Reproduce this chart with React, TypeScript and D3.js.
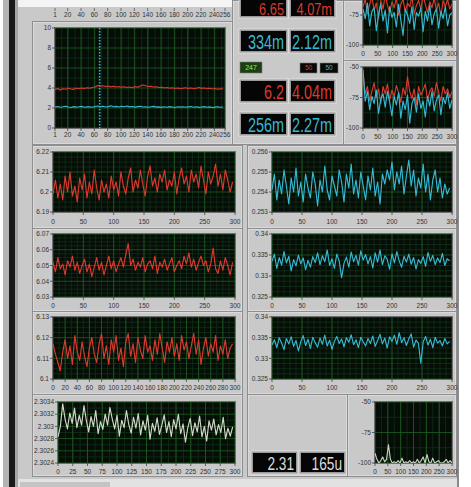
import React from "react";
import * as d3 from "d3";

const FONT = "'Liberation Sans Narrow','Liberation Sans',Arial,sans-serif";

// ---------- tick values / labels ----------
const histXTicks = [1, 20, 40, 60, 80, 100, 120, 140, 160, 180, 200, 220, 240, 256];
const histYTicks = [0, 2, 4, 6, 8, 10];
const x50Ticks = [0, 50, 100, 150, 200, 250, 300];
const x20Ticks = [0, 20, 40, 60, 80, 100, 120, 140, 160, 180, 200, 220, 240, 260, 280, 300];
const x25Ticks = [0, 25, 50, 75, 100, 125, 150, 175, 200, 225, 250, 275, 300];
const r1lY = [6.19, 6.2, 6.21, 6.22];
const r1lYLabels = ["6.19", "6.2", "6.21", "6.22"];
const r1rY = [0.253, 0.254, 0.255, 0.256];
const r1rYLabels = ["0.253", "0.254", "0.255", "0.256"];
const r2lY = [6.03, 6.04, 6.05, 6.06, 6.07];
const r2lYLabels = ["6.03", "6.04", "6.05", "6.06", "6.07"];
const rRY = [0.325, 0.33, 0.335, 0.34];
const rRYLabels = ["0.325", "0.33", "0.335", "0.34"];
const r3lY = [6.1, 6.11, 6.12, 6.13];
const r3lYLabels = ["6.1", "6.11", "6.12", "6.13"];
const r4lY = [2.3024, 2.3026, 2.3028, 2.303, 2.3032, 2.3034];
const r4lYLabels = ["2.3024", "2.3026", "2.3028", "2.303", "2.3032", "2.3034"];
const specY = [-100, -75, -50];
const specYLabels = ["-100", "-75", "-50"];

// ---------- indicator values ----------
const indRow1 = ["6.65", "4.07m"];
const indRow2 = ["334m", "2.12m"];
const indRow4 = ["6.2", "4.04m"];
const indRow5 = ["256m", "2.27m"];
const indBottom = ["2.31", "165u"];
const smallInd = ["247", "50", "50"];

// ---------- series ----------
const histCursor = 68;
const histRed = [3.85, 3.95, 3.8, 3.92, 3.88, 3.97, 3.9, 3.86, 3.98, 3.93, 4.0, 3.95, 4.02, 3.98, 4.05, 4.1, 4.25, 4.18, 4.22, 4.15, 4.2, 4.12, 4.18, 4.1, 4.15, 4.08, 4.12, 4.05, 4.1, 4.03, 4.15, 4.08, 4.2, 4.3, 4.22, 4.15, 4.18, 4.1, 4.12, 4.05, 4.08, 4.0, 4.05, 3.98, 4.02, 3.95, 4.0, 3.93, 3.98, 4.02, 3.95, 4.0, 3.92, 3.98, 4.05, 3.96, 4.0, 3.92, 3.97, 3.9, 3.95, 3.88, 3.93, 3.9];
const histCyan = [2.1, 2.15, 2.08, 2.12, 2.18, 2.1, 2.05, 2.14, 2.09, 2.12, 2.16, 2.08, 2.11, 2.13, 2.07, 2.15, 2.2, 2.12, 2.18, 2.1, 2.14, 2.22, 2.12, 2.16, 2.1, 2.18, 2.13, 2.2, 2.11, 2.15, 2.09, 2.14, 2.18, 2.1, 2.13, 2.08, 2.12, 2.16, 2.09, 2.11, 2.06, 2.12, 2.08, 2.14, 2.1, 2.05, 2.12, 2.09, 2.13, 2.07, 2.11, 2.15, 2.08, 2.12, 2.06, 2.1, 2.14, 2.08, 2.11, 2.05, 2.09, 2.13, 2.07, 2.1];

const specARed = [-68, -62, -74, -66, -60, -71, -65, -78, -63, -70, -58, -67, -73, -64, -69, -61, -75, -66, -62, -72, -65, -68, -60, -74, -67, -63, -70, -59, -66, -73, -64, -69, -61, -71, -65, -76, -63, -68, -62, -70, -66];
const specACyan = [-70, -78, -65, -84, -72, -69, -88, -74, -66, -80, -71, -90, -68, -77, -73, -85, -66, -79, -92, -70, -75, -82, -68, -87, -73, -76, -69, -89, -72, -80, -67, -83, -74, -70, -86, -72, -78, -68, -84, -75, -73];
const specBRed = [-55, -72, -66, -78, -70, -63, -75, -68, -80, -66, -72, -64, -77, -69, -74, -65, -71, -79, -67, -73, -58, -70, -76, -68, -81, -66, -73, -69, -64, -77, -70, -67, -74, -63, -71, -78, -66, -72, -68, -75, -70];
const specBCyan = [-52, -78, -70, -85, -74, -80, -69, -88, -76, -72, -83, -70, -79, -90, -74, -81, -71, -92, -78, -85, -73, -96, -80, -75, -87, -72, -84, -78, -91, -74, -82, -70, -86, -77, -73, -89, -75, -80, -71, -84, -77];
const specBottom = [-92, -97, -100, -98, -95, -99, -97, -85, -97, -100, -99, -100, -98, -100, -96, -100, -99, -100, -98, -100, -99, -100, -97, -100, -98, -95, -100, -93, -99, -100, -96, -100, -99, -98, -100, -100, -99, -97, -100, -98, -100];

const r1Left = [6.199, 6.206, 6.197, 6.204, 6.196, 6.208, 6.2, 6.21, 6.198, 6.203, 6.195, 6.207, 6.201, 6.209, 6.197, 6.205, 6.199, 6.211, 6.202, 6.196, 6.206, 6.2, 6.204, 6.197, 6.208, 6.201, 6.205, 6.198, 6.21, 6.203, 6.199, 6.207, 6.212, 6.2, 6.206, 6.202, 6.211, 6.204, 6.198, 6.208, 6.213, 6.203, 6.207, 6.2, 6.209, 6.205, 6.211, 6.201, 6.206, 6.203, 6.21, 6.199, 6.207, 6.212, 6.204, 6.208, 6.2, 6.211, 6.205, 6.209, 6.202, 6.213, 6.206, 6.199, 6.21, 6.204, 6.208, 6.214, 6.203, 6.209, 6.201, 6.211, 6.206, 6.2, 6.205];
const r1Right = [0.2541, 0.2549, 0.2536, 0.2546, 0.2539, 0.2551, 0.2543, 0.2534, 0.2547, 0.254, 0.2552, 0.2538, 0.2545, 0.2535, 0.2549, 0.2542, 0.2537, 0.255, 0.2544, 0.2533, 0.2546, 0.254, 0.2553, 0.2541, 0.2536, 0.2548, 0.2543, 0.2538, 0.2551, 0.2545, 0.2535, 0.2549, 0.2542, 0.2554, 0.2539, 0.2546, 0.2537, 0.255, 0.2543, 0.2536, 0.2548, 0.2541, 0.2552, 0.2538, 0.2545, 0.2534, 0.2549, 0.2544, 0.2551, 0.2546, 0.2555, 0.2541, 0.255, 0.2544, 0.2553, 0.2539, 0.2548, 0.2556, 0.2543, 0.2551, 0.2538, 0.2547, 0.2542, 0.2554, 0.254, 0.2549, 0.2536, 0.2546, 0.2551, 0.254, 0.2547, 0.2537, 0.2544, 0.2539, 0.2542];
const r2Left = [6.052, 6.046, 6.055, 6.048, 6.051, 6.044, 6.053, 6.049, 6.056, 6.047, 6.052, 6.045, 6.05, 6.054, 6.046, 6.051, 6.043, 6.049, 6.055, 6.047, 6.052, 6.044, 6.05, 6.056, 6.048, 6.053, 6.046, 6.051, 6.055, 6.049, 6.057, 6.064, 6.05, 6.054, 6.047, 6.052, 6.049, 6.055, 6.046, 6.051, 6.053, 6.048, 6.056, 6.045, 6.052, 6.049, 6.054, 6.047, 6.051, 6.055, 6.046, 6.05, 6.053, 6.048, 6.056, 6.051, 6.058, 6.049, 6.054, 6.047, 6.052, 6.056, 6.05, 6.053, 6.046, 6.051, 6.061, 6.048, 6.045, 6.053, 6.047, 6.055, 6.05, 6.044, 6.052];
const r2Right = [0.3335, 0.3352, 0.3318, 0.3344, 0.3326, 0.3358, 0.3331, 0.3347, 0.3312, 0.3339, 0.3324, 0.335, 0.3329, 0.3343, 0.3315, 0.3337, 0.3321, 0.3346, 0.3332, 0.3355, 0.3327, 0.3348, 0.3334, 0.3362, 0.3325, 0.3341, 0.3318, 0.3352, 0.3336, 0.3296, 0.333, 0.3345, 0.3321, 0.3357, 0.3334, 0.3349, 0.3326, 0.336, 0.3338, 0.3351, 0.3329, 0.3346, 0.3319, 0.3355, 0.3333, 0.3362, 0.3327, 0.3348, 0.334, 0.3316, 0.3353, 0.3331, 0.3358, 0.3336, 0.3321, 0.3347, 0.3333, 0.3352, 0.3328, 0.3344, 0.3317, 0.3339, 0.333, 0.3346, 0.3323, 0.3356, 0.3335, 0.3349, 0.3327, 0.3343, 0.3332, 0.3354, 0.3325, 0.3341, 0.3336];
const r3Left = [6.117, 6.112, 6.108, 6.104, 6.113, 6.119, 6.11, 6.116, 6.107, 6.121, 6.113, 6.109, 6.118, 6.111, 6.106, 6.115, 6.12, 6.112, 6.108, 6.117, 6.122, 6.11, 6.116, 6.107, 6.119, 6.113, 6.121, 6.109, 6.115, 6.106, 6.118, 6.122, 6.111, 6.117, 6.108, 6.12, 6.114, 6.11, 6.121, 6.113, 6.116, 6.109, 6.119, 6.112, 6.122, 6.115, 6.108, 6.118, 6.113, 6.12, 6.111, 6.117, 6.109, 6.121, 6.114, 6.118, 6.11, 6.116, 6.122, 6.112, 6.119, 6.107, 6.115, 6.12, 6.111, 6.117, 6.113, 6.121, 6.109, 6.116, 6.112, 6.119, 6.11, 6.115, 6.117];
const r3Right = [0.3332, 0.3345, 0.3326, 0.335, 0.3337, 0.3321, 0.3348, 0.3335, 0.3352, 0.3329, 0.3343, 0.3318, 0.334, 0.3355, 0.3331, 0.3346, 0.3324, 0.3351, 0.3338, 0.3327, 0.3349, 0.3334, 0.3356, 0.333, 0.3344, 0.3322, 0.3341, 0.3353, 0.3336, 0.3347, 0.3328, 0.335, 0.3339, 0.3357, 0.3333, 0.3345, 0.3326, 0.3351, 0.334, 0.333, 0.3348, 0.3336, 0.3354, 0.3329, 0.3343, 0.3358, 0.3335, 0.3349, 0.3325, 0.3352, 0.3341, 0.3356, 0.3334, 0.3362, 0.3338, 0.335, 0.3331, 0.3347, 0.3359, 0.3327, 0.3344, 0.3336, 0.3288, 0.334, 0.3353, 0.3332, 0.3346, 0.3326, 0.3351, 0.3337, 0.3343, 0.333, 0.3348, 0.3335, 0.3341];
const r4Left = [2.30283, 2.303, 2.30337, 2.30312, 2.30296, 2.30322, 2.30305, 2.3033, 2.30298, 2.30318, 2.30302, 2.30334, 2.3031, 2.30291, 2.30316, 2.303, 2.30326, 2.30288, 2.30308, 2.30295, 2.3032, 2.30302, 2.30331, 2.30312, 2.30296, 2.30318, 2.30284, 2.3031, 2.30298, 2.30326, 2.30303, 2.30289, 2.30315, 2.30297, 2.30321, 2.30286, 2.30309, 2.30294, 2.30318, 2.30279, 2.30305, 2.30292, 2.30314, 2.30287, 2.30302, 2.30319, 2.3029, 2.30308, 2.30283, 2.30311, 2.30296, 2.3032, 2.30288, 2.30304, 2.30274, 2.30298, 2.30313, 2.30285, 2.30306, 2.30291, 2.30317, 2.30283, 2.303, 2.30276, 2.30309, 2.30294, 2.30312, 2.30286, 2.30303, 2.3029, 2.30315, 2.3028, 2.30297, 2.30284, 2.30299];

const RED = "#dc3a2e";
const CYAN = "#36b9d4";
const WHITE = "#d2d8c8";
const GRID_MAJ = "#1f5e22";
const GRID_MIN = "#10301a";
const PLOT_BG = "#050d06";
const PANEL = "#c9c9c9";

interface Series { values: number[]; step: number; start?: number; color: string; }
interface PlotProps {
  left: number; top: number; width: number; height: number;
  xDomain: [number, number]; yDomain: [number, number];
  xTicks: number[]; yTicks: number[]; yLabels: string[];
  xMinorStep: number; yMinorDiv: number;
  labelY: number; series: Series[]; cursor?: number;
}

function Plot(p: PlotProps) {
  const id = "c" + React.useId().replace(/[^a-zA-Z0-9]/g, "");
  const xs = d3.scaleLinear().domain(p.xDomain).range([p.left, p.left + p.width]);
  const ys = d3.scaleLinear().domain(p.yDomain).range([p.top + p.height, p.top]);
  const xMinor = d3.range(p.xDomain[0], p.xDomain[1], p.xMinorStep);
  const yMinor: number[] = [];
  for (let i = 0; i < p.yTicks.length - 1; i++) {
    const a = p.yTicks[i], b = p.yTicks[i + 1];
    for (let k = 1; k < p.yMinorDiv; k++) yMinor.push(a + ((b - a) * k) / p.yMinorDiv);
  }
  const bottom = p.top + p.height;
  return (
    <g>
      <clipPath id={id}><rect x={p.left} y={p.top} width={p.width} height={p.height} /></clipPath>
      <rect x={p.left} y={p.top} width={p.width} height={p.height} fill={PLOT_BG} />
      <g clipPath={`url(#${id})`}>
        {xMinor.map((v, i) => (
          <line key={"xm" + i} x1={xs(v)} x2={xs(v)} y1={p.top} y2={bottom} stroke={GRID_MIN} strokeWidth={0.8} />
        ))}
        {yMinor.map((v, i) => (
          <line key={"ym" + i} x1={p.left} x2={p.left + p.width} y1={ys(v)} y2={ys(v)} stroke={GRID_MIN} strokeWidth={0.8} />
        ))}
        {p.xTicks.map((v, i) => (
          <line key={"xM" + i} x1={xs(v)} x2={xs(v)} y1={p.top} y2={bottom} stroke={GRID_MAJ} strokeWidth={0.8} />
        ))}
        {p.yTicks.map((v, i) => (
          <line key={"yM" + i} x1={p.left} x2={p.left + p.width} y1={ys(v)} y2={ys(v)} stroke={GRID_MAJ} strokeWidth={0.8} />
        ))}
        {p.series.map((s, si) => {
          const line = d3.line<number>()
            .x((_, i) => xs((s.start ?? 0) + i * s.step))
            .y((d) => ys(d));
          return <path key={si} d={line(s.values) || ""} fill="none" stroke={s.color} strokeWidth={1.15} strokeLinejoin="round" />;
        })}
        {p.cursor !== undefined && (
          <line x1={xs(p.cursor)} x2={xs(p.cursor)} y1={p.top} y2={bottom} stroke={CYAN} strokeWidth={1.6} strokeDasharray="1.5 1.5" />
        )}
      </g>
      <rect x={p.left - 0.5} y={p.top - 0.5} width={p.width + 1} height={p.height + 1} fill="none" stroke="#6f6f6f" strokeWidth={1} />
      {p.yTicks.map((v, i) => ys(v) < 4 ? null : (
        <g key={"yt" + i}>
          <line x1={p.left - 3} x2={p.left} y1={ys(v)} y2={ys(v)} stroke="#444" strokeWidth={0.8} />
          <text x={p.left - 4} y={ys(v)} dy="0.35em" textAnchor="end" fontSize={6.5} fill="#333">{p.yLabels[i]}</text>
        </g>
      ))}
      {p.xTicks.map((v, i) => (
        <g key={"xt" + i}>
          <line x1={xs(v)} x2={xs(v)} y1={bottom} y2={bottom + 3} stroke="#444" strokeWidth={0.8} />
          <text x={xs(v)} y={p.labelY} dy="0.35em" textAnchor="middle" fontSize={6.5} fill="#333">{String(v)}</text>
        </g>
      ))}
    </g>
  );
}

function Panel({ x, y, w, h }: { x: number; y: number; w: number; h: number }) {
  return (
    <g>
      <rect x={x + 0.5} y={y + 0.5} width={w - 1} height={h - 1} fill={PANEL} stroke="#8e8e8e" strokeWidth={1} />
      <rect x={x + 1.5} y={y + 1.5} width={w - 3} height={h - 3} fill="none" stroke="#dedede" strokeWidth={0.8} />
    </g>
  );
}

function Num({ x, y, w, h, text, color, size = 20, base, sx = 0.72 }: { x: number; y: number; w: number; h: number; text: string; color: string; size?: number; base?: number; sx?: number }) {
  const by = base ?? y + h - 4;
  return (
    <g>
      <rect x={x} y={y} width={w} height={h} fill="#9a9a9a" />
      <rect x={x} y={y} width={w} height={h} fill="none" stroke="#e6e6e6" strokeWidth={0.8} />
      <rect x={x + 2} y={y + 2} width={w - 4} height={h - 4} fill="#050505" />
      <text transform={`translate(${x + w - 4},${by}) scale(${sx},1)`} textAnchor="end" fontSize={size} fill={color}
        fontFamily="'Liberation Sans',Arial,sans-serif">{text}</text>
    </g>
  );
}

export default function App() {
  const histScale = d3.scaleLinear().domain([1, 256]).range([55, 225]);
  return (
    <div style={{ position: "absolute", left: 0, top: 0 }}>
      <svg width={471} height={487} style={{ display: "block" }} fontFamily={FONT}>
        <rect x={0} y={0} width={471} height={487} fill="#ffffff" />
        <rect x={3} y={0} width={456} height={479} fill={PANEL} />
        <rect x={18} y={479} width={441} height={8} fill="#e2e2e2" />
        <rect x={20} y={482} width={90} height={5} fill="#c4c4c4" />
        <rect x={3} y={0} width={6} height={487} fill="#b3b3b3" />
        <rect x={9} y={0} width={6} height={487} fill="#1a1a1a" />
        <rect x={15} y={0} width={3} height={487} fill="#a6a6a6" />
        <rect x={457} y={0} width={2} height={487} fill="#8a8a8a" />
        <rect x={459} y={0} width={12} height={487} fill="#ffffff" />

        {/* top region */}
        <rect x={18} y={0} width={214} height={7} fill="#f4f4f4" />
        {histXTicks.map((v, i) => (
          <g key={"tt" + i}>
            <line x1={histScale(v)} x2={histScale(v)} y1={8} y2={11} stroke="#555" strokeWidth={0.8} />
            <text x={histScale(v)} y={15} dy="0.35em" textAnchor="middle" fontSize={6.5} fill="#333">{String(v)}</text>
          </g>
        ))}
        <Panel x={32} y={21} w={201} h={124} />
        <Panel x={232} y={0} w={112} h={145} />
        <Panel x={343} y={0} w={114} h={61} />
        <Panel x={343} y={60} w={114} h={85} />

        <Plot left={55} top={28} width={170} height={100} xDomain={[1, 256]} yDomain={[0, 10]}
          xTicks={histXTicks} yTicks={histYTicks} yLabels={histYTicks.map(String)}
          xMinorStep={10} yMinorDiv={2} labelY={135}
          series={[{ values: histRed, step: 4, start: 1, color: RED }, { values: histCyan, step: 4, start: 1, color: CYAN }]}
          cursor={histCursor} />

        <Num x={239} y={-4} w={49} h={22} text={indRow1[0]} color={RED} size={16} base={15} sx={0.8} />
        <Num x={289} y={-4} w={47} h={22} text={indRow1[1]} color={RED} size={16} base={15} sx={0.8} />
        <Num x={239} y={29} w={49} h={24} text={indRow2[0]} color={CYAN} />
        <Num x={289} y={29} w={47} h={24} text={indRow2[1]} color={CYAN} />
        <rect x={240} y={62} width={22} height={11} fill="#1d3d12" stroke="#7a7a7a" strokeWidth={0.6} />
        <text x={251} y={67.5} dy="0.35em" textAnchor="middle" fontSize={7} fill="#8af050">{smallInd[0]}</text>
        <rect x={300} y={63} width={17} height={10} fill="#080808" stroke="#7a7a7a" strokeWidth={0.6} />
        <text x={308.5} y={68} dy="0.35em" textAnchor="middle" fontSize={6.5} fill={RED}>{smallInd[1]}</text>
        <rect x={320} y={63} width={18} height={10} fill="#080808" stroke="#7a7a7a" strokeWidth={0.6} />
        <text x={329} y={68} dy="0.35em" textAnchor="middle" fontSize={6.5} fill={CYAN}>{smallInd[2]}</text>
        <Num x={239} y={79} w={49} h={24} text={indRow4[0]} color={RED} />
        <Num x={289} y={79} w={47} h={24} text={indRow4[1]} color={RED} />
        <Num x={239} y={112} w={49} h={24} text={indRow5[0]} color={CYAN} />
        <Num x={289} y={112} w={47} h={24} text={indRow5[1]} color={CYAN} />

        <Plot left={363} top={-15} width={89} height={60} xDomain={[0, 300]} yDomain={[-100, -50]}
          xTicks={x50Ticks} yTicks={specY} yLabels={specYLabels} xMinorStep={25} yMinorDiv={2} labelY={54}
          series={[{ values: specARed, step: 7.5, color: RED }, { values: specACyan, step: 7.5, color: CYAN }]} />
        <Plot left={363} top={67} width={89} height={61} xDomain={[0, 300]} yDomain={[-100, -50]}
          xTicks={x50Ticks} yTicks={specY} yLabels={specYLabels} xMinorStep={25} yMinorDiv={2} labelY={137}
          series={[{ values: specBRed, step: 7.5, color: RED }, { values: specBCyan, step: 7.5, color: CYAN }]} />

        {/* rows */}
        <Panel x={32} y={145} w={211} h={84} />
        <Panel x={247} y={145} w={210} h={84} />
        <Panel x={32} y={228} w={211} h={84} />
        <Panel x={247} y={228} w={210} h={84} />
        <Panel x={32} y={311} w={211} h={84} />
        <Panel x={247} y={311} w={210} h={84} />
        <Panel x={32} y={394} w={211} h={83} />
        <Panel x={247} y={394} w={101} h={83} />
        <Panel x={347} y={394} w={110} h={83} />

        <Plot left={53} top={152} width={182} height={60} xDomain={[0, 300]} yDomain={[6.19, 6.22]}
          xTicks={x50Ticks} yTicks={r1lY} yLabels={r1lYLabels} xMinorStep={10} yMinorDiv={4} labelY={222}
          series={[{ values: r1Left, step: 4, color: RED }]} />
        <Plot left={272} top={152} width={180} height={60} xDomain={[0, 300]} yDomain={[0.253, 0.256]}
          xTicks={x50Ticks} yTicks={r1rY} yLabels={r1rYLabels} xMinorStep={10} yMinorDiv={4} labelY={222}
          series={[{ values: r1Right, step: 4, color: CYAN }]} />
        <Plot left={53} top={234} width={182} height={63} xDomain={[0, 300]} yDomain={[6.03, 6.07]}
          xTicks={x50Ticks} yTicks={r2lY} yLabels={r2lYLabels} xMinorStep={10} yMinorDiv={4} labelY={306}
          series={[{ values: r2Left, step: 4, color: RED }]} />
        <Plot left={272} top={234} width={180} height={63} xDomain={[0, 300]} yDomain={[0.325, 0.34]}
          xTicks={x50Ticks} yTicks={rRY} yLabels={rRYLabels} xMinorStep={10} yMinorDiv={4} labelY={306}
          series={[{ values: r2Right, step: 4, color: CYAN }]} />
        <Plot left={53} top={317} width={182} height={62} xDomain={[0, 300]} yDomain={[6.1, 6.13]}
          xTicks={x20Ticks} yTicks={r3lY} yLabels={r3lYLabels} xMinorStep={10} yMinorDiv={4} labelY={388}
          series={[{ values: r3Left, step: 4, color: RED }]} />
        <Plot left={272} top={317} width={180} height={62} xDomain={[0, 300]} yDomain={[0.325, 0.34]}
          xTicks={x50Ticks} yTicks={rRY} yLabels={rRYLabels} xMinorStep={10} yMinorDiv={4} labelY={388}
          series={[{ values: r3Right, step: 4, color: CYAN }]} />
        <Plot left={58} top={402} width={177} height={61} xDomain={[0, 300]} yDomain={[2.3024, 2.3034]}
          xTicks={x25Ticks} yTicks={r4lY} yLabels={r4lYLabels} xMinorStep={12.5} yMinorDiv={2} labelY={472}
          series={[{ values: r4Left, step: 4, color: WHITE }]} />

        <Num x={251} y={451} w={47} h={23} text={indBottom[0]} color="#dcdcdc" size={19} />
        <Num x={299} y={451} w={47} h={23} text={indBottom[1]} color="#dcdcdc" size={19} />

        <Plot left={375} top={402} width={77} height={61} xDomain={[0, 300]} yDomain={[-100, -50]}
          xTicks={x50Ticks} yTicks={specY} yLabels={specYLabels} xMinorStep={25} yMinorDiv={2} labelY={472}
          series={[{ values: specBottom, step: 7.5, color: "#c8cfc0" }]} />
      </svg>
    </div>
  );
}
